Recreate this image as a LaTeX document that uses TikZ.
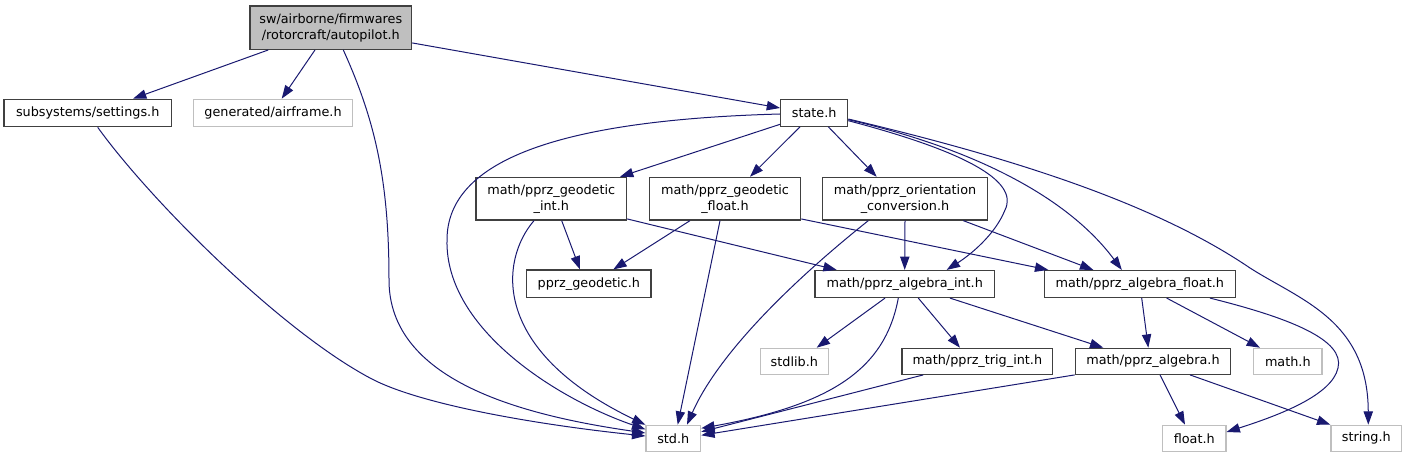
\documentclass[tikz,border=0pt]{standalone}
\usepackage{fontspec}
\setmainfont{DejaVu Sans}
\usetikzlibrary{arrows.meta,calc}
\definecolor{edgec}{HTML}{191970}
\definecolor{bordc}{HTML}{404040}
\definecolor{lgray}{HTML}{BFBFBF}
\begin{document}
\begin{tikzpicture}[x=0.75pt,y=-0.75pt,
  every node/.style={font=\fontsize{9.6}{12}\selectfont, inner sep=0pt, align=center},
  blk/.style={draw=bordc, line width=0.9pt, fill=white},
  ext/.style={draw=lgray, line width=0.9pt, fill=white},
  root/.style={draw=bordc, line width=0.9pt, fill=lgray},
  dep/.style={draw=edgec, line width=0.75pt, -{Triangle[length=10pt,width=7pt]}}]
\useasboundingbox (0,0) rectangle (1407,459);
% nodes
\node[root, minimum width=161.7*.75pt, minimum height=43.3*.75pt] (ap) at (330.8,27.7) {sw/airborne/firmwares\\/rotorcraft/autopilot.h};
\node[blk, minimum width=167.3*.75pt, minimum height=27.4*.75pt] (set) at (87.7,113) {subsystems/settings.h};
\node[ext, minimum width=159.4*.75pt, minimum height=27.4*.75pt] (air) at (273,113) {generated/airframe.h};
\node[blk, minimum width=67*.75pt, minimum height=27*.75pt] (st) at (814.2,112.7) {state.h};
\node[blk, minimum width=150.7*.75pt, minimum height=42.7*.75pt] (gi) at (551.3,198.7) {math/pprz\_geodetic\\\_int.h};
\node[blk, minimum width=151.4*.75pt, minimum height=42.7*.75pt] (gf) at (725,198.7) {math/pprz\_geodetic\\\_float.h};
\node[blk, minimum width=164.6*.75pt, minimum height=42.7*.75pt] (or) at (905,198.7) {math/pprz\_orientation\\\_conversion.h};
\node[blk, minimum width=124.3*.75pt, minimum height=27.3*.75pt] (pg) at (588.8,283.7) {pprz\_geodetic.h};
\node[blk, minimum width=179.3*.75pt, minimum height=27*.75pt] (ai) at (904.7,284) {math/pprz\_algebra\_int.h};
\node[blk, minimum width=191*.75pt, minimum height=27*.75pt] (af) at (1139.8,284) {math/pprz\_algebra\_float.h};
\node[ext, minimum width=68*.75pt, minimum height=26*.75pt] (sl) at (794.3,361.3) {stdlib.h};
\node[blk, minimum width=150.7*.75pt, minimum height=26*.75pt] (ti) at (977.3,361.3) {math/pprz\_trig\_int.h};
\node[blk, minimum width=155.4*.75pt, minimum height=26*.75pt] (ah) at (1153,361.3) {math/pprz\_algebra.h};
\node[ext, minimum width=68.3*.75pt, minimum height=26*.75pt] (mh) at (1287.8,361.3) {math.h};
\node[ext, minimum width=54.7*.75pt, minimum height=26*.75pt] (sd) at (673.3,438.3) {std.h};
\node[ext, minimum width=63.3*.75pt, minimum height=26*.75pt] (fh) at (1194.3,438.3) {float.h};
\node[ext, minimum width=70.7*.75pt, minimum height=26*.75pt] (sh) at (1366.3,438.3) {string.h};
% edges from autopilot
\draw[dep] ($(ap.south)+(-62.5,0)$) -- ($(set.north)+(45.3,0)$);
\draw[dep] ($(ap.south)+(-15.8,0)$) -- ($(air.north)+(8.7,0)$);
\draw[dep] ($(ap.south east)+(0,-7)$) -- ($(st.west)+(0,-4.7)$);
\draw[dep] ($(ap.south)+(12.5,0)$) .. controls (375,120) and (389,180) .. (389,280) .. controls (389,380) and (520,415) .. ($(sd.west)+(0,-5.3)$);
% settings
\draw[dep] ($(set.south)+(10,0)$) .. controls (150,200) and (280,330) .. (370,378) .. controls (420,405) and (540,425) .. ($(sd.west)+(0,-2.3)$);
% state
\draw[dep] ($(st.west)+(0,1.3)$) .. controls (560,120) and (447,160) .. (447,240) .. controls (445,330) and (560,400) .. ($(sd.west)+(0,-9)$);
\draw[dep] ($(st.west)+(0,11.6)$) -- ($(gi.north)+(68.7,0)$);
\draw[dep] ($(st.south)+(-14.2,0)$) -- ($(gf.north)+(25,0)$);
\draw[dep] ($(st.south)+(14.1,0)$) -- ($(or.north)+(-28.3,0)$);
\draw[dep] ($(st.east)+(0,8)$) .. controls (960,150) and (1020,180) .. (1005,210) .. controls (995,235) and (970,255) .. ($(ai.north)+(42,0)$);
\draw[dep] ($(st.east)+(0,7)$) .. controls (980,150) and (1070,200) .. ($(af.north)+(-18,0)$);
\draw[dep] ($(st.east)+(0,6.3)$) .. controls (1000,155) and (1150,200) .. (1250,268) .. controls (1300,300) and (1368,320) .. ($(sh.north)+(2,0)$);
% geodetic int
\draw[dep] ($(gi.south)+(10.4,0)$) -- ($(pg.north)+(-8.8,0)$);
\draw[dep] ($(gi.south)+(-17.3,0)$) .. controls (500,260) and (490,350) .. ($(sd.west)+(0,-13.5)$);
\draw[dep] ($(gi.south east)+(0,-1.7)$) -- ($(ai.north)+(-68,0)$);
% geodetic float
\draw[dep] ($(gf.south)+(-35,0)$) -- ($(pg.north)+(24.5,0)$);
\draw[dep] ($(gf.south)+(-5,0)$) -- ($(sd.north)+(4.4,0)$);
\draw[dep] ($(gf.south east)+(0,-1.7)$) -- ($(af.north)+(-91.5,0)$);
% orientation
\draw[dep] ($(or.south)+(-36.7,0)$) .. controls (800,275) and (720,350) .. ($(sd.north)+(13.7,0)$);
\draw[dep] (or.south) -- (ai.north);
\draw[dep] ($(or.south)+(58.3,0)$) -- ($(af.north)+(-46.5,0)$);
% algebra int
\draw[dep] ($(ai.south)+(-19.7,0)$) -- ($(sl.north)+(22.4,0)$);
\draw[dep] ($(ai.south)+(-6.4,0)$) .. controls (885,370) and (830,405) .. ($(sd.east)+(0,-10)$);
\draw[dep] ($(ai.south)+(13.6,0)$) -- ($(ti.north)+(-17.3,0)$);
\draw[dep] ($(ai.south)+(45.3,0)$) -- ($(ah.north)+(-49.7,0)$);
% algebra float
\draw[dep] ($(af.south)+(1.9,0)$) -- ($(ah.north)+(-4.7,0)$);
\draw[dep] ($(af.south)+(26.9,0)$) -- ($(mh.north)+(-27.8,0)$);
\draw[dep] ($(af.south)+(70.2,0)$) .. controls (1290,318) and (1345,340) .. (1338,368) .. controls (1332,395) and (1280,415) .. ($(fh.east)+(0,-6.3)$);
% trig int
\draw[dep] ($(ti.south)+(-54,0)$) -- ($(sd.east)+(0,-6.5)$);
% algebra
\draw[dep] (ah.south west) -- ($(sd.east)+(0,-3)$);
\draw[dep] ($(ah.south)+(7,0)$) -- ($(fh.north)+(-9.3,0)$);
\draw[dep] ($(ah.south)+(37,0)$) -- (sh.north west);
\end{tikzpicture}
\end{document}
